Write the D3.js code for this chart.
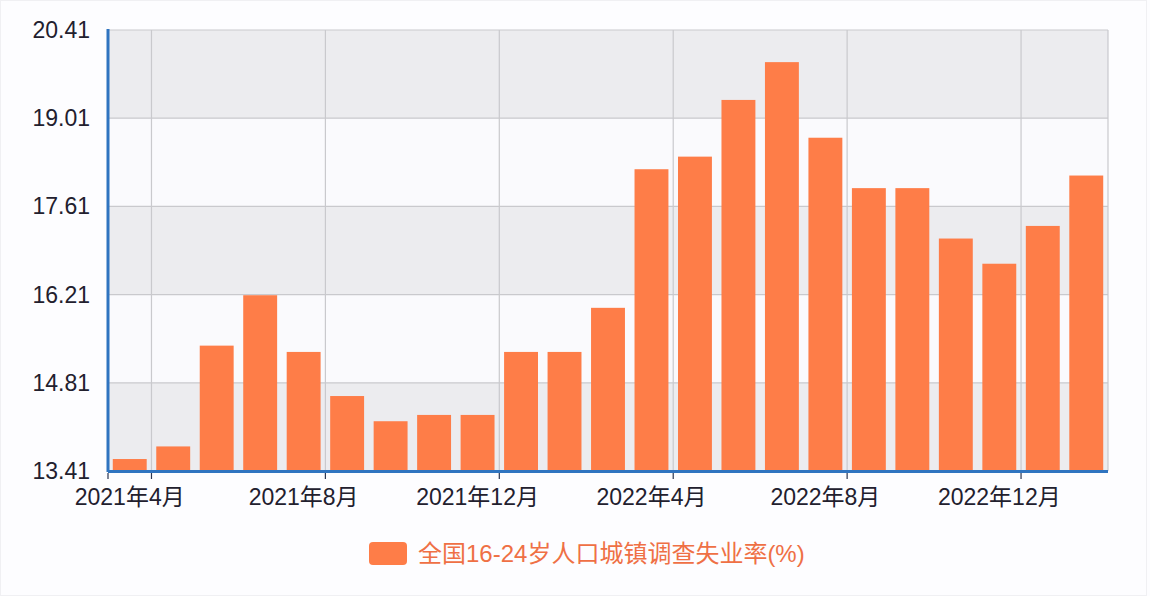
<!DOCTYPE html>
<html>
<head>
<meta charset="utf-8">
<script src="https://cdn.jsdelivr.net/npm/d3@7/dist/d3.min.js"></script>
<style>
  body { margin: 0; background: #fdfdff; }
  svg text { font-family: "Liberation Sans", "Noto Sans CJK SC", sans-serif; }
</style>
</head>
<body>
<div id="chart"></div>
<script>
// months shown on the x axis
const months = [
    '2021年4月', '2021年5月', '2021年6月', '2021年7月', '2021年8月', '2021年9月',
    '2021年10月', '2021年11月', '2021年12月', '2022年1月', '2022年2月', '2022年3月',
    '2022年4月', '2022年5月', '2022年6月', '2022年7月', '2022年8月', '2022年9月',
    '2022年10月', '2022年11月', '2022年12月', '2023年1月', '2023年2月'
];
// 16-24 urban unemployment rate (%)
const rates = [
    13.6, 13.8, 15.4, 16.2, 15.3, 14.6, 14.2, 14.3, 14.3, 15.3, 15.3, 16.0,
    18.2, 18.4, 19.3, 19.9, 18.7, 17.9, 17.9, 17.1, 16.7, 17.3, 18.1
];
const yTicks = [13.41, 14.81, 16.21, 17.61, 19.01, 20.41];
const seriesName = '全国16-24岁人口城镇调查失业率(%)';

const W = 1150, H = 596;
const pL = 108, pR = 1108, pT = 30, pB = 471;

const svg = d3.select('#chart').append('svg')
    .attr('width', W)
    .attr('height', H);

// faint frame round the picture
svg.append('rect')
    .attr('x', 0.5).attr('y', 0.5)
    .attr('width', W - 4).attr('height', H - 1)
    .attr('fill', 'none')
    .attr('stroke', '#f0f0f3');

const x = d3.scaleBand().domain(months).range([pL, pR]).paddingInner(0.22).paddingOuter(0.11);
const xb = d3.scaleBand().domain(months).range([pL, pR]); // full bands for ticks / grid
const y = d3.scaleLinear().domain([13.41, 20.41]).range([pB, pT]);

// alternating background stripes
for (let i = 0; i < yTicks.length - 1; i++) {
    svg.append('rect')
        .attr('x', pL)
        .attr('y', y(yTicks[i + 1]))
        .attr('width', pR - pL)
        .attr('height', y(yTicks[i]) - y(yTicks[i + 1]))
        .attr('fill', i % 2 === 0 ? '#ececef' : '#fafafd');
}

// horizontal grid
yTicks.forEach(t => {
    svg.append('line')
        .attr('x1', pL).attr('x2', pR)
        .attr('y1', y(t)).attr('y2', y(t))
        .attr('stroke', '#c9c9cd').attr('stroke-width', 1.2);
});

// ticks every 4th month, on the right edge of the band
const tickIdx = d3.range(0, months.length, 4);
tickIdx.forEach(i => {
    const gx = xb(months[i]) + xb.bandwidth();
    svg.append('line')
        .attr('x1', gx).attr('x2', gx)
        .attr('y1', pT).attr('y2', pB)
        .attr('stroke', '#c9c9cd').attr('stroke-width', 1.2);
});
svg.append('line')
    .attr('x1', pR).attr('x2', pR)
    .attr('y1', pT).attr('y2', pB)
    .attr('stroke', '#c9c9cd').attr('stroke-width', 1.2);

// bars
svg.selectAll('rect.bar')
    .data(rates)
    .enter().append('rect')
    .attr('class', 'bar')
    .attr('x', (d, i) => x(months[i]))
    .attr('y', d => y(d))
    .attr('width', x.bandwidth())
    .attr('height', d => pB - y(d))
    .attr('fill', '#fe7d48');

// axes
svg.append('line')
    .attr('x1', pL).attr('x2', pL)
    .attr('y1', pT - 1).attr('y2', pB + 1)
    .attr('stroke', '#2f74c0').attr('stroke-width', 3);
svg.append('line')
    .attr('x1', pL).attr('x2', pR)
    .attr('y1', pB + 0.5).attr('y2', pB + 0.5)
    .attr('stroke', '#2f74c0').attr('stroke-width', 3);

// x tick marks
[pL].concat(tickIdx.map(i => xb(months[i]) + xb.bandwidth())).forEach(tx => {
    svg.append('line')
        .attr('x1', tx).attr('x2', tx)
        .attr('y1', pB + 2).attr('y2', pB + 8)
        .attr('stroke', '#2a3550').attr('stroke-width', 1.2);
});

// x labels
tickIdx.forEach(i => {
    svg.append('text')
        .attr('x', x(months[i]) + x.bandwidth() / 2)
        .attr('y', 505)
        .attr('text-anchor', 'middle')
        .attr('font-size', 23)
        .attr('fill', '#22202e')
        .text(months[i]);
});

// y labels
yTicks.forEach(t => {
    svg.append('text')
        .attr('x', 90)
        .attr('y', y(t) + 8)
        .attr('text-anchor', 'end')
        .attr('font-size', 23)
        .attr('fill', '#22202e')
        .text(t.toFixed(2));
});

// legend
svg.append('rect')
    .attr('x', 369).attr('y', 542)
    .attr('width', 38).attr('height', 23)
    .attr('rx', 4)
    .attr('fill', '#fe7d48');
svg.append('text')
    .attr('x', 418)
    .attr('y', 562)
    .attr('font-size', 24)
    .attr('fill', '#ef7045')
    .text(seriesName);
</script>
</body>
</html>
